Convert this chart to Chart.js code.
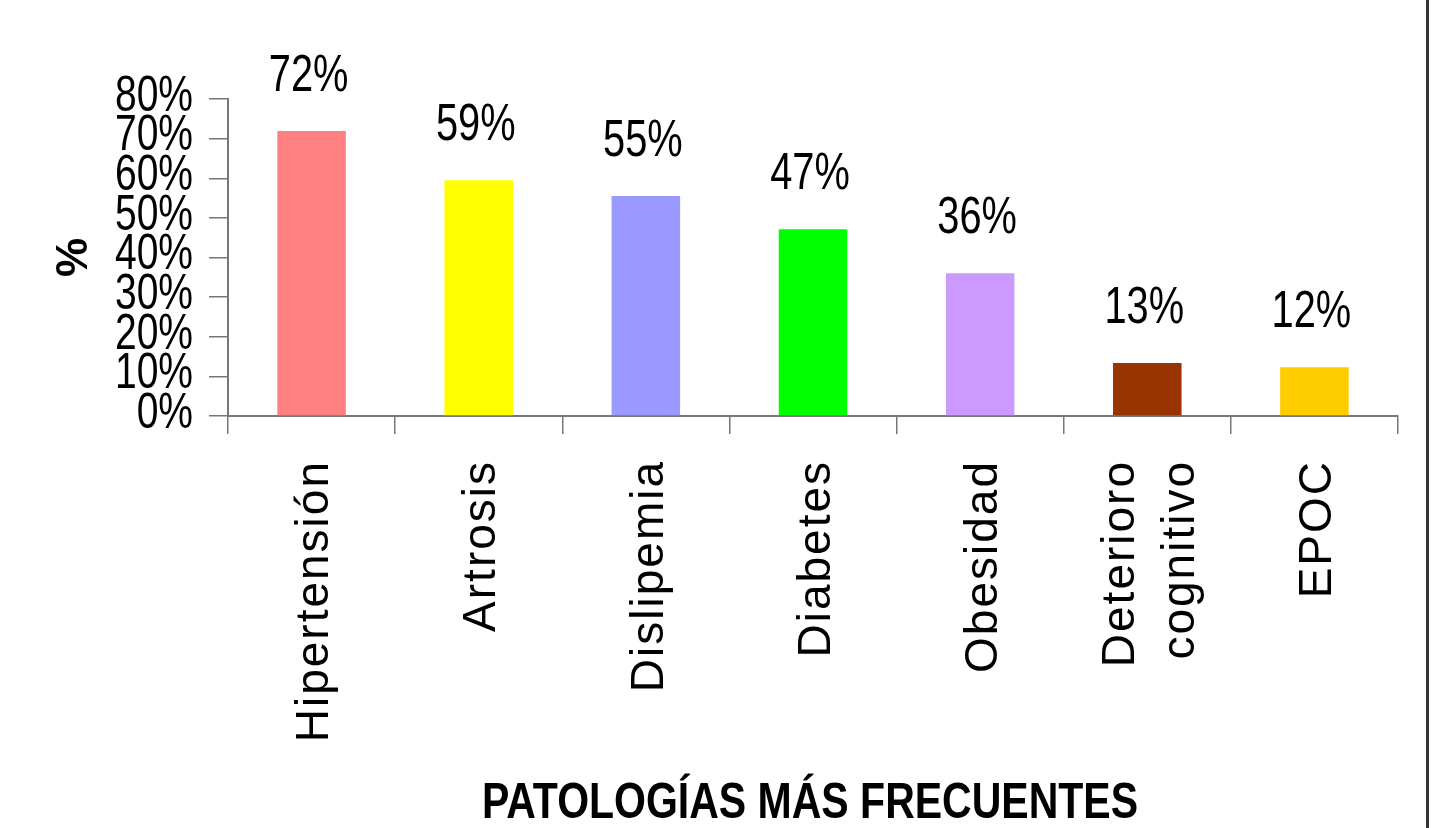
<!DOCTYPE html>
<html>
<head>
<meta charset="utf-8">
<script src="https://cdn.jsdelivr.net/npm/chart.js@4.4.1/dist/chart.umd.min.js"></script>
<style>
  html, body { margin: 0; padding: 0; background: #fff; }
  #wrap { width: 1426px; height: 828px; border-right: 3px solid #333; position: relative; }
</style>
</head>
<body>
<div id="wrap"><canvas id="myChart"></canvas></div>
<script>
const categorias = ['Hipertensión', 'Artrosis', 'Dislipemia', 'Diabetes', 'Obesidad', ['Deterioro', 'cognitivo'], 'EPOC']
const valores = [71.9, 59.5, 55.5, 47.1, 36.0, 13.4, 12.3]
const etiquetas = ['72%', '59%', '55%', '47%', '36%', '13%', '12%']
const colores = ['#FF8080', '#FFFF00', '#9999FF', '#00FF00', '#CC99FF', '#993300', '#FFCC00']
const ticksY = [0, 10, 20, 30, 40, 50, 60, 70, 80]
const tituloX = 'PATOLOGÍAS MÁS FRECUENTES'

const sans = '"Liberation Sans", Arial, sans-serif'

// no hay Arial Narrow: se estrecha la Liberation Sans a mano
const textoEstrecho = (ctx, txt, x, y, font, align, base, k) => {
    ctx.save()
    ctx.font = font
    ctx.fillStyle = '#000'
    ctx.textAlign = align
    ctx.textBaseline = base
    ctx.translate(x, y)
    ctx.scale(k, 1)
    ctx.fillText(txt, 0, 0)
    ctx.restore()
}

// etiquetas de valor encima de cada barra
const valorPlugin = {
    id: 'valorPlugin',
    afterDatasetsDraw(chart) {
        const meta = chart.getDatasetMeta(0)
        meta.data.forEach((bar, i) => {
            textoEstrecho(chart.ctx, etiquetas[i], bar.x - 3, bar.y - 40, '51px ' + sans, 'center', 'alphabetic', 0.78)
        })
    }
}

// textos de ejes: ticks Y, categorias giradas y titulo X
const ejesPlugin = {
    id: 'ejesPlugin',
    afterDraw(chart) {
        const ctx = chart.ctx
        const x = chart.scales.x
        const y = chart.scales.y

        ticksY.forEach(v => {
            textoEstrecho(ctx, v + '%', y.right - 35, y.getPixelForValue(v) - 2, '50px ' + sans, 'right', 'middle', 0.78)
        })

        ctx.save()
        ctx.font = '46px ' + sans
        ctx.fillStyle = '#000'
        ctx.letterSpacing = '2px'
        ctx.textAlign = 'right'
        ctx.textBaseline = 'middle'
        categorias.forEach((cat, i) => {
            const lineas = Array.isArray(cat) ? cat : [cat]
            const px = x.getPixelForValue(i)
            lineas.forEach((txt, j) => {
                const off = (j - (lineas.length - 1) / 2) * 60 + 4
                ctx.save()
                ctx.translate(px + off, x.top + 44)
                ctx.rotate(-Math.PI / 2)
                ctx.fillText(txt, 0, 0)
                ctx.restore()
            })
        })
        ctx.restore()

        const cx = (chart.chartArea.left + chart.chartArea.right) / 2
        textoEstrecho(ctx, tituloX, cx - 3, x.bottom - 10, 'bold 50px ' + sans, 'center', 'alphabetic', 0.82)
    }
}

const data_chart = {
    labels: categorias.map(c => Array.isArray(c) ? c.join(' ') : c),
    datasets: [{
        data: valores,
        backgroundColor: colores,
        borderWidth: 0,
        barPercentage: 0.41,
        categoryPercentage: 1
    }]
}

const config = {
    type: 'bar',
    data: data_chart,
    options: {
        responsive: true,
        maintainAspectRatio: false,
        animation: false,
        layout: { padding: { top: 99, right: 28, left: 0, bottom: 0 } },
        plugins: { legend: { display: false }, tooltip: { enabled: false } },
        scales: {
            x: {
                offset: true,
                grid: { offset: true, drawOnChartArea: false, tickLength: 18, color: '#777', lineWidth: 1.5 },
                border: { color: '#777', width: 2 },
                ticks: { display: false },
                afterFit: (s) => { s.height = 412 }
            },
            y: {
                min: 0,
                max: 80,
                afterBuildTicks: (s) => { s.ticks = ticksY.map(v => ({ value: v })) },
                grid: { drawOnChartArea: false, tickLength: 19, color: '#777', lineWidth: 1.5 },
                border: { color: '#777', width: 2 },
                ticks: { display: false },
                title: {
                    display: true,
                    text: '%',
                    color: '#000',
                    font: { family: sans, size: 44, weight: 'bold' },
                    padding: { top: 48, bottom: 0 }
                },
                afterFit: (s) => { s.width = 228 }
            }
        }
    },
    plugins: [valorPlugin, ejesPlugin]
}

let myChart = new Chart(document.getElementById('myChart').getContext('2d'), config)
</script>
</body>
</html>
